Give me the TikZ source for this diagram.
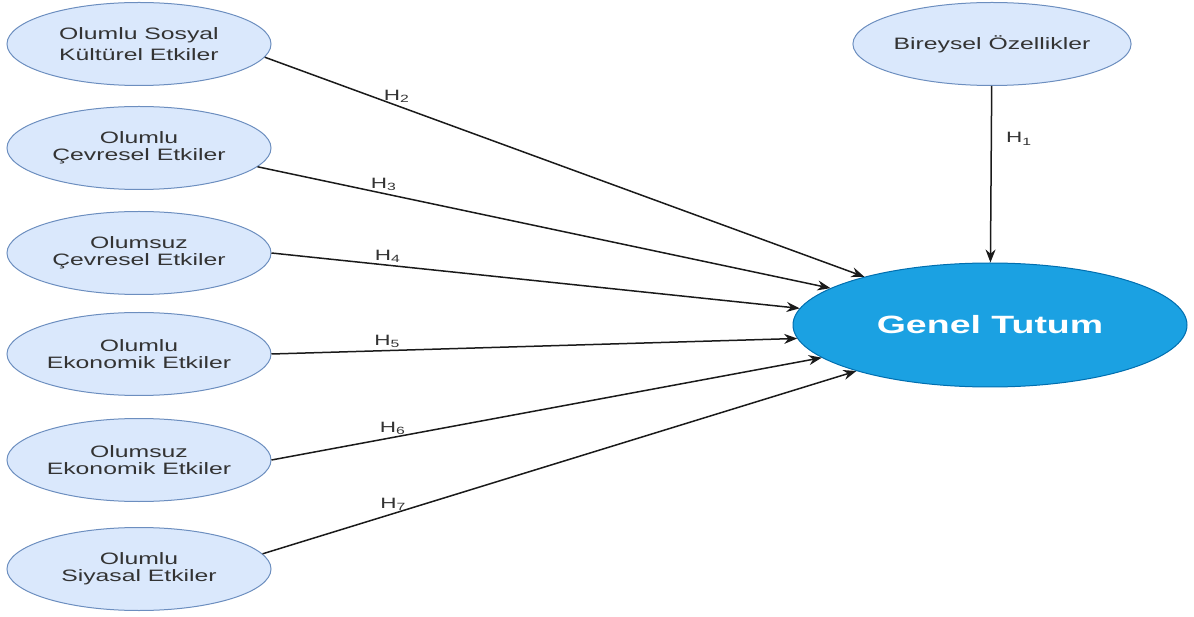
\documentclass[tikz,border=0pt]{standalone}
\usepackage{fontspec}
\setmainfont{Liberation Sans}[FakeStretch=1.5]
\usetikzlibrary{arrows.meta,shapes.geometric}

\definecolor{factorfill}{HTML}{DAE8FC}
\definecolor{factorline}{HTML}{6C8EBF}
\definecolor{mainfill}{HTML}{1BA1E2}
\definecolor{mainline}{HTML}{006EAF}
\definecolor{textgray}{HTML}{333333}
\definecolor{linegray}{HTML}{1A1A1A}

\begin{document}
\begin{tikzpicture}[x=1pt, y=-1pt, >={Stealth[length=13pt,width=10pt]},
   factor/.style={ellipse, draw=factorline, fill=factorfill, line width=1pt,
      minimum width=264, minimum height=83, inner sep=0, align=center,
      text=textgray, font=\fontsize{16.5}{17}\selectfont},
   result/.style={ellipse, draw=mainline, fill=mainfill, line width=1pt,
      minimum width=394, minimum height=124, inner sep=0,
      text=white, font=\fontsize{25}{28}\selectfont\bfseries},
   link/.style={->, draw=linegray, line width=1.5pt},
   hyp/.style={text=textgray, inner sep=2pt, font=\fontsize{15}{16}\selectfont}]
   \useasboundingbox (0,0) rectangle (1194,617);

   \node (e1) at (139,44) [factor] {Olumlu Sosyal\\[4pt]Kültürel Etkiler};
   \node (e2) at (139,148) [factor] {Olumlu\\Çevresel Etkiler};
   \node (e3) at (139,253) [factor] {Olumsuz\\Çevresel Etkiler};
   \node (e4) at (139,354) [factor] {Olumlu\\Ekonomik Etkiler};
   \node (e5) at (139,460) [factor] {Olumsuz\\Ekonomik Etkiler};
   \node (e6) at (139,569) [factor] {Olumlu\\Siyasal Etkiler};
   \node (be) at (992,44) [factor] {Bireysel Özellikler};
   \node (gt) at (990,325) [result] {Genel Tutum};

   \draw[link] (be) -- node[hyp, right, pos=0.3, xshift=12pt] (h1) {H\textsubscript{1}} (gt);
   \draw[link] (e1.-6) -- node[hyp, above, pos=0.22] (h2) {H\textsubscript{2}} (gt.159);
   \draw[link] (e2.-9) -- node[hyp, above, pos=0.22] (h3) {H\textsubscript{3}} (gt.167);
   \draw[link] (e3.east) -- node[hyp, above, pos=0.22] (h4) {H\textsubscript{4}} (gt.175);
   \draw[link] (e4.east) -- node[hyp, above, pos=0.22] (h5) {H\textsubscript{5}} (gt.184);
   \draw[link] (e5.east) -- node[hyp, above, pos=0.22] (h6) {H\textsubscript{6}} (gt.191);
   \draw[link] (e6.7) -- node[hyp, above, pos=0.22] (h7) {H\textsubscript{7}} (gt.199);

\end{tikzpicture}
\end{document}
